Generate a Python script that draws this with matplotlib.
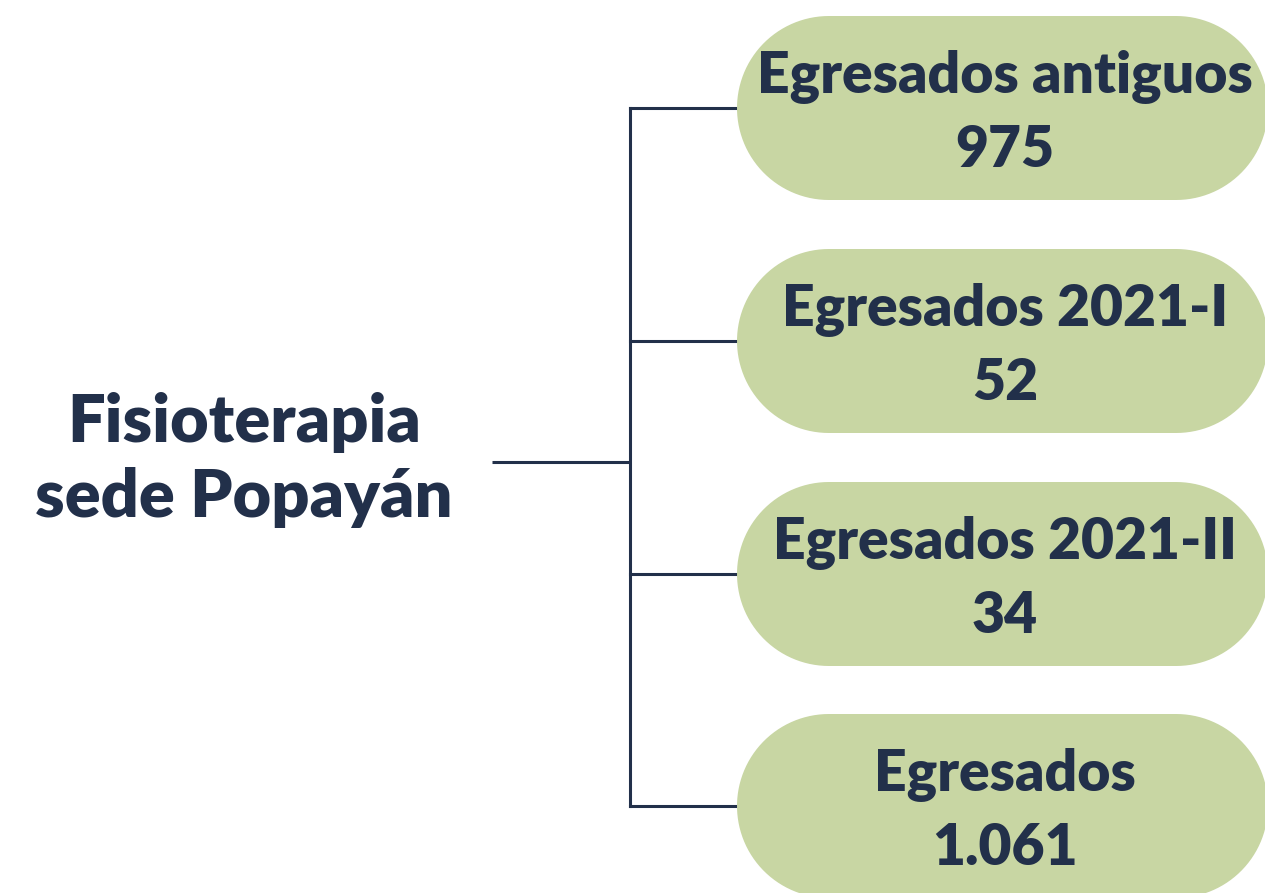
import numpy as np
import matplotlib.pyplot as plt
from matplotlib.patches import Polygon

# data
root_label = "Fisioterapia\nsede Popayán"
group_labels = ["Egresados antiguos", "Egresados 2021-I", "Egresados 2021-II", "Egresados"]
group_values = ["975", "52", "34", "1.061"]

NAVY = "#22304a"
GREEN = "#c8d6a3"
FONT = ["Lato", "DejaVu Sans"]


def pill(x0, x1, yc, r, n=60):
    """Stadium shape in pixel coords (y grows downward)."""
    t = np.linspace(-np.pi / 2, np.pi / 2, n)
    right = np.column_stack([x1 - r + r * np.cos(t), yc + r * np.sin(t)])
    left = np.column_stack([x0 + r - r * np.cos(t), yc - r * np.sin(t)])
    return np.vstack([right, left])


fig = plt.figure(figsize=(12.65, 8.93), dpi=100)
ax = fig.add_axes([0, 0, 1, 1])
ax.set_xlim(0, 1265)
ax.set_ylim(893, 0)
ax.axis("off")

centers = [108, 341, 574, 806]
trunk_x = 630
pill_x0, pill_x1, radius = 737, 1268, 92

# connector lines
ax.plot([492, trunk_x], [462, 462], color=NAVY, lw=2.2, solid_capstyle="butt")
ax.plot([trunk_x, trunk_x], [centers[0], centers[-1]], color=NAVY, lw=2.2)
for yc in centers:
    ax.plot([trunk_x, pill_x0 + 10], [yc, yc], color=NAVY, lw=2.2)

# pills with text
for yc, lab, val in zip(centers, group_labels, group_values):
    ax.add_patch(Polygon(pill(pill_x0, pill_x1, yc, radius), closed=True,
                         facecolor=GREEN, edgecolor="none", zorder=3))
    ax.text(1005, yc - 31, lab, ha="center", va="center", color=NAVY,
            fontsize=41, fontweight="heavy", family=FONT, zorder=4)
    ax.text(1005, yc + 42, val, ha="center", va="center", color=NAVY,
            fontsize=41, fontweight="heavy", family=FONT, zorder=4)

ax.text(244, 460, root_label, ha="center", va="center", color=NAVY,
        fontsize=48, fontweight="heavy", family=FONT, linespacing=1.28)

fig.savefig("out.png", dpi=100)
